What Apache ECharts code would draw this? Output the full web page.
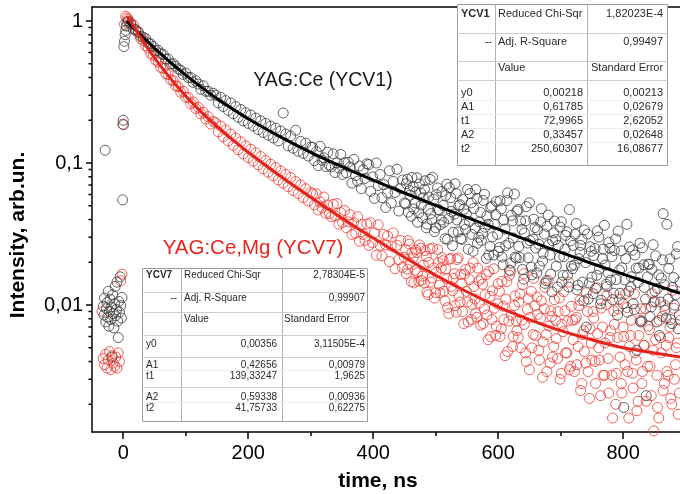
<!DOCTYPE html>
<html>
<head>
<meta charset="utf-8">
<script src="https://cdn.jsdelivr.net/npm/echarts@6/dist/echarts.min.js"></script>
<style>html,body{margin:0;padding:0;background:#fff}#c{width:680px;height:494px}</style>
</head>
<body>
<div id="c"></div>
<script>
// ---------- DATA ----------
// pre-trigger / rising edge points
const preTimeBlack = [-32,-31,-30,-29,-28,-27,-26,-25,-24,-23,-22,-21,-20,-19,-18,-17,-16,-15,-14,-13,-12,-11,-10,-9,-8,-7,-6,-5,-4,-3,-2,-1,0,0.5,1,2,3,4,5,6];
const preBlack = [0.0098,0.0085,0.0112,0.123,0.0076,0.0094,0.0104,0.0082,0.0125,0.0071,0.0090,0.0110,0.0079,0.0097,0.0043,0.0118,0.0087,0.0069,0.0102,0.0135,0.0084,0.0093,0.0145,0.0077,0.0059,0.0106,0.0089,0.0158,0.0099,0.0081,0.0113,0.055,0.20,0.186,0.66,0.72,0.80,0.86,0.92,0.98];
const preTimeRed = [-34,-32,-30,-28,-26,-24,-22,-20,-18,-16,-14,-12,-10,-8,-6,-4,-2,-1,2,4,6];
const preRed = [0.009,0.0042,0.0038,0.0045,0.0036,0.0041,0.0047,0.0035,0.0044,0.0039,0.0037,0.0043,0.0036,0.0046,0.0040,0.0148,0.0165,0.188,0.95,1.08,1.05];

// decay time bins (ns), shared by both samples
const decayTime = [
8,12,16,20,24,28,32,36,40,44,48,52,56,60,64,68,72,76,80,84,
88,92,96,100,104,108,112,116,120,124,128,132,136,140,144,148,152,156,160,164,
168,172,176,180,184,188,192,196,200,204,208,212,216,220,224,228,232,236,240,244,
248,252,256,260,264,268,272,276,280,284,288,292,296,300,
303,306,309,312,315,318,321,324,327,330,
333,336,339,342,345,348,351,354,357,360,
363,366,369,372,375,378,381,384,387,390,
393,396,399,402,405,408,411,414,417,420,
423,426,429,432,435,438,441,444,447,450,
453,456,459,462,465,468,471,474,477,480,
483,486,489,492,495,498,501,504,507,510,
513,516,519,522,525,528,531,534,537,540,
543,546,549,552,555,558,561,564,567,570,
573,576,579,582,585,588,591,594,597,600,
603,606,609,612,615,618,621,624,627,630,
633,636,639,642,645,648,651,654,657,660,
663,666,669,672,675,678,681,684,687,690,
693,696,699,702,705,708,711,714,717,720,
723,726,729,732,735,738,741,744,747,750,
753,756,759,762,765,768,771,774,777,780,
783,786,789,792,795,798,801,804,807,810,
813,816,819,822,825,828,831,834,837,840,
843,846,849,852,855,858,861,864,867,870,
873,876,879,882,885,888,891];

// YAG:Ce (YCV1) measured intensity
const decayBlack = [
1.0,0.95,0.88,0.87,0.84,0.78,0.77,0.75,0.70,0.69,
0.66,0.62,0.62,0.59,0.58,0.54,0.54,0.50,0.50,0.48,
0.46,0.45,0.42,0.43,0.40,0.40,0.37,0.38,0.36,0.33,
0.35,0.32,0.32,0.30,0.31,0.30,0.265,0.29,0.25,0.275,
0.235,0.265,0.222,0.25,0.21,0.238,0.198,0.226,0.19,0.218,
0.182,0.207,0.172,0.198,0.164,0.19,0.157,0.182,0.15,0.176,
0.143,0.168,0.225,0.16,0.132,0.155,0.127,0.17,0.121,0.142,
0.117,0.138,0.112,0.13,
0.129,0.104,0.120,0.0959,0.131,0.1045,0.1086,0.0944,0.119,0.0963,
0.094,0.116,0.0857,0.1003,0.0922,0.1148,0.0831,0.1005,0.0854,0.1011,
0.0937,0.0722,0.106,0.0815,0.0745,0.0953,0.066,0.0895,0.0779,0.0988,
0.0975,0.0631,0.0799,0.0563,0.100,0.0695,0.0831,0.057,0.0704,0.0486,
0.0617,0.0881,0.0523,0.0741,0.0621,0.0904,0.0459,0.0662,0.0759,0.0523,
0.0716,0.045,0.0593,0.0791,0.0475,0.0627,0.0383,0.0712,0.0505,0.0569,
0.075,0.0371,0.0576,0.044,0.0794,0.0329,0.060,0.047,0.0367,0.0629,
0.0382,0.0591,0.029,0.067,0.0456,0.0325,0.0714,0.0397,0.0501,0.0293,
0.0554,0.037,0.0438,0.0247,0.061,0.0314,0.0478,0.065,0.0272,0.0385,
0.0285,0.0545,0.0353,0.0423,0.0225,0.0485,0.0302,0.0369,0.0536,0.0239,
0.0541,0.0218,0.0397,0.0262,0.0616,0.0176,0.0428,0.0297,0.0217,0.0459,
0.0258,0.039,0.0178,0.0322,0.0493,0.0215,0.0284,0.0163,0.0402,0.0252,
0.0339,0.0188,0.0477,0.0231,0.0142,0.0358,0.0266,0.0165,0.0284,0.039,
0.0188,0.0263,0.0354,0.0145,0.0219,0.0309,0.0163,0.047,0.0188,0.0263,
0.0315,0.0128,0.0212,0.0263,0.0145,0.0338,0.0070,0.011,0.0257,0.0157,
0.0223,0.0131,0.0333,0.0179,0.0108,0.0248,0.0191,0.0135,0.0276,0.015,
0.0109,0.0242,0.0151,0.0332,0.0121,0.0183,0.0019,0.0212,0.0089,0.0256,
0.0158,0.0102,0.0225,0.0048,0.0182,0.0076,0.0253,0.0133,0.0023,0.0194,
0.0083,0.0178,0.0105,0.0222,0.0131,0.0061,0.0155,0.044,0.0092,0.037,
0.0181,0.0079,0.0133,0.010,0.0229,0.0068,0.0145];

// YAG:Ce,Mg (YCV7) measured intensity
const decayRed = [
1.03,0.97,0.94,0.85,0.83,0.75,0.73,0.67,0.645,0.59,
0.575,0.53,0.515,0.47,0.465,0.425,0.42,0.385,0.38,0.35,
0.345,0.315,0.32,0.29,0.29,0.262,0.268,0.242,0.247,0.222,
0.228,0.204,0.212,0.188,0.196,0.192,0.166,0.182,0.153,0.171,
0.143,0.16,0.133,0.15,0.124,0.141,0.116,0.132,0.109,0.125,
0.103,0.118,0.097,0.111,0.091,0.104,0.086,0.098,0.081,0.093,
0.076,0.088,0.072,0.083,0.068,0.079,0.064,0.074,0.061,0.07,
0.057,0.066,0.054,0.062,
0.0607,0.0507,0.0606,0.0467,0.0531,0.0485,0.0576,0.0443,0.0507,0.0441,
0.0419,0.0511,0.0425,0.0518,0.037,0.0447,0.0381,0.0463,0.035,0.0385,
0.0432,0.0314,0.038,0.032,0.0419,0.0281,0.037,0.0314,0.0285,0.0372,
0.0263,0.038,0.0274,0.0322,0.0224,0.0367,0.0263,0.0222,0.0314,0.0265,
0.0307,0.0202,0.026,0.0322,0.018,0.0264,0.0209,0.0285,0.0184,0.0217,
0.0166,0.0284,0.0196,0.0233,0.0143,0.0245,0.0169,0.0265,0.0149,0.0191,
0.0242,0.0123,0.02,0.0145,0.0252,0.0112,0.017,0.0199,0.0122,0.0216,
0.0125,0.0179,0.0096,0.021,0.0135,0.0154,0.0099,0.0209,0.0117,0.0164,
0.009,0.0165,0.0125,0.0076,0.0182,0.0101,0.0135,0.0087,0.0182,0.0103,
0.0154,0.0074,0.0118,0.0085,0.0172,0.006,0.0126,0.0095,0.0071,0.0141,
0.006,0.0147,0.0079,0.011,0.0047,0.0162,0.0085,0.006,0.0116,0.0066,
0.0105,0.005,0.0139,0.0073,0.004,0.0111,0.0082,0.005,0.0154,0.0061,
0.0086,0.0041,0.0107,0.0055,0.0133,0.0034,0.0071,0.0091,0.0043,0.0109,
0.0058,0.009,0.003,0.0073,0.0124,0.0046,0.0077,0.0035,0.0098,0.0057,
0.0079,0.0038,0.0099,0.0025,0.0062,0.0047,0.0122,0.0034,0.0068,0.0041,
0.0081,0.0028,0.0063,0.0041,0.0095,0.0032,0.0054,0.0117,0.0024,0.0066,
0.0016,0.0073,0.0033,0.0094,0.0043,0.0024,0.006,0.012,0.0034,0.0051,
0.0078,0.0026,0.0046,0.0018,0.0061,0.0094,0.0034,0.0052,0.0021,0.0071,
0.0037,0.012,0.0013,0.0057,0.0019,0.0078,0.0046,0.0025,0.0099,0.0034,
0.0059,0.0022,0.0127,0.003,0.005,0.0017,0.0078];

// interleaved time bins of the late tail (second acquisition channel)
const tailTime = [
452,455,458,461,464,467,470,473,476,479,
482,485,488,491,494,497,500,503,506,509,
512,515,518,521,524,527,530,533,536,539,
542,545,548,551,554,557,560,563,566,569,
572,575,578,581,584,587,590,593,596,599,
602,605,608,611,614,617,620,623,626,629,
632,635,638,641,644,647,650,653,656,659,
662,665,668,671,674,677,680,683,686,689,
692,695,698,701,704,707,710,713,716,719,
722,725,728,731,734,737,740,743,746,749,
752,755,758,761,764,767,770,773,776,779,
782,785,788,791,794,797,800,803,806,809,
812,815,818,821,824,827,830,833,836,839,
842,845,848,851,854,857,860,863,866,869,
872,875,878,881,884,887,890];
const tailBlack = [
0.0516,0.0768,0.064,0.0422,0.0683,0.0524,0.0788,0.0445,0.0615,0.0412,
0.0654,0.035,0.0472,0.0767,0.0399,0.0557,0.035,0.0668,0.0465,0.0397,
0.0502,0.0293,0.071,0.0407,0.057,0.0262,0.0437,0.0609,0.0327,0.0509,
0.029,0.0472,0.0342,0.0651,0.0387,0.0524,0.0239,0.0347,0.0564,0.030,
0.0448,0.032,0.0603,0.0213,0.037,0.0258,0.0497,0.0225,0.0433,0.0315,
0.0254,0.0476,0.0192,0.0343,0.0544,0.0272,0.0197,0.0391,0.0605,0.0214,
0.047,0.0216,0.0342,0.0152,0.0392,0.0273,0.0525,0.0185,0.0291,0.0351,
0.0168,0.0268,0.0384,0.0204,0.0316,0.0148,0.043,0.0225,0.0124,0.0322,
0.0289,0.0134,0.0217,0.0386,0.0162,0.0247,0.0328,0.0134,0.0283,0.018,
0.0191,0.0375,0.0138,0.0235,0.029,0.0107,0.0199,0.0316,0.0143,0.0239,
0.012,0.025,0.0162,0.0301,0.0102,0.0212,0.0364,0.014,0.0169,0.0251,
0.0219,0.0121,0.0292,0.0085,0.0176,0.0241,0.0102,0.015,0.037,0.0125,
0.0134,0.0243,0.0093,0.0182,0.0144,0.0272,0.0077,0.0192,0.011,0.0158,
0.0193,0.0097,0.0266,0.0125,0.0076,0.0163,0.0105,0.0208,0.0139,0.0081,
0.011,0.0211,0.0074,0.0156,0.0118,0.0258,0.0085];
const tailRed = [
0.0245,0.0179,0.0268,0.0146,0.0215,0.0176,0.0234,0.0147,0.0251,0.016,
0.0143,0.022,0.0118,0.0248,0.0155,0.0182,0.0122,0.0246,0.0138,0.0182,
0.0205,0.0107,0.0154,0.0087,0.0213,0.0126,0.0166,0.0089,0.0215,0.0105,
0.0142,0.0074,0.0178,0.0105,0.0151,0.0079,0.0199,0.011,0.0082,0.0148,
0.0072,0.014,0.0094,0.0164,0.0057,0.0115,0.0079,0.018,0.0061,0.0102,
0.0125,0.0068,0.0098,0.0044,0.0146,0.0077,0.0174,0.0051,0.0099,0.0077,
0.0059,0.012,0.0078,0.0166,0.0046,0.0093,0.0035,0.0125,0.0062,0.0099,
0.0114,0.0048,0.0081,0.0031,0.0094,0.0062,0.0149,0.0039,0.0083,0.0051,
0.0078,0.0042,0.0112,0.0033,0.0065,0.0091,0.0046,0.0145,0.0037,0.0078,
0.0034,0.0082,0.0051,0.0108,0.0028,0.0066,0.0039,0.009,0.0022,0.0054,
0.009,0.004,0.0132,0.005,0.0023,0.007,0.0032,0.0101,0.0042,0.0059,
0.0032,0.0091,0.002,0.0059,0.011,0.0028,0.007,0.0038,0.0096,0.0016,
0.0061,0.0033,0.012,0.0041,0.0021,0.0078,0.0028,0.0052,0.0094,0.0037,
0.0067,0.0023,0.0048,0.0106,0.0032,0.0016,0.0059,0.0083,0.0028,0.0052,
0.0032,0.007,0.002,0.0095,0.0038,0.0054,0.0024];

// fitted curves
const fitTime  = [6,10,20,30,40,50,60,80,100,125,150,175,200,250,300,350,400,450,500,550,600,650,700,750,800,850,891];
const fitBlack = [0.99,0.955,0.862,0.781,0.709,0.645,0.588,0.492,0.416,0.342,0.284,0.240,0.205,0.154,0.119,0.0942,0.0757,0.0615,0.0503,0.0414,0.0342,0.0283,0.0235,0.0196,0.0165,0.0139,0.0121];
const fitRed   = [1.08,1.02,0.868,0.741,0.637,0.551,0.481,0.373,0.296,0.228,0.181,0.146,0.119,0.0816,0.0573,0.0409,0.0296,0.0217,0.0162,0.0124,0.0097,0.0079,0.0066,0.0057,0.0050,0.0046,0.0043];

// axis ticks
const xMajorTicks = [0,200,400,600,800];
const xMinorTicks = [100,300,500,700];
const yMajorTicks = [0.01,0.1,1];
const yMinorTicks = [0.002,0.003,0.004,0.005,0.006,0.007,0.008,0.009,0.02,0.03,0.04,0.05,0.06,0.07,0.08,0.09,0.2,0.3,0.4,0.5,0.6,0.7,0.8,0.9];

// fit result tables
const ycv1Stats = [["YCV1","Reduced Chi-Sqr","1,82023E-4"],["--","Adj. R-Square","0,99497"],["","Value","Standard Error"]];
const ycv1Params = [["y0","0,00218","0,00213"],["A1","0,61785","0,02679"],["t1","72,9965","2,62052"],["A2","0,33457","0,02648"],["t2","250,60307","16,08677"]];
const ycv7Stats = [["YCV7","Reduced Chi-Sqr","2,78304E-5"],["--","Adj. R-Square","0,99907"],["","Value","Standard Error"]];
const ycv7Params = [["y0","0,00356","3,11505E-4"],["A1","0,42656","0,00979"],["t1","139,33247","1,9625"],["A2","0,59338","0,00936"],["t2","41,75733","0,62275"]];

// ---------- CHART ----------
const FONT = '"Liberation Sans", Arial, sans-serif';
const pairs = (ts, vs) => ts.map((t, i) => [t, vs[i]]).filter(p => p[1] !== undefined);
const blackData = pairs(preTimeBlack, preBlack).concat(pairs(decayTime, decayBlack), pairs(tailTime, tailBlack));
const redData = pairs(preTimeRed, preRed).concat(pairs(decayTime, decayRed), pairs(tailTime, tailRed));

const X_MIN = -50, X_MAX = 891, Y_MIN = 0.001276, Y_MAX = 1.2547;

function T(x, y, text, font, align, vAlign, fill) {
  return { type: 'text', z: 100, style: { x: x, y: y, text: text, font: font, fill: fill || '#2a2a2a',
    textAlign: align, align: align, textVerticalAlign: vAlign || 'middle', verticalAlign: vAlign || 'middle' } };
}
function L(x1, y1, x2, y2, color) {
  return { type: 'line', z: 100, shape: { x1: x1, y1: y1, x2: x2, y2: y2 }, style: { stroke: color, lineWidth: 1 } };
}

function table(cfg) {
  const els = [];
  els.push({ type: 'rect', z: 99, shape: { x: cfg.x, y: cfg.y, width: cfg.w, height: cfg.h },
    style: { fill: '#fff', stroke: '#9a9a9a', lineWidth: 1 } });
  cfg.vlines.forEach(vx => els.push(L(vx, cfg.y, vx, cfg.y + cfg.h, '#b4b4b4')));
  cfg.hlines.forEach(h => els.push(L(cfg.x, h[0], cfg.x + cfg.w, h[0], h[1])));
  const f = cfg.fs + 'px ' + FONT, fb = 'bold ' + cfg.fs + 'px ' + FONT;
  cfg.statsY.forEach((yy, i) => {
    const r = cfg.stats[i];
    if (i === 0) els.push(T(cfg.c0x, yy, r[0], fb, 'left'));
    else if (r[0]) els.push(T(cfg.dashX, yy, r[0], f, 'right'));
    els.push(T(cfg.c1x, yy, r[1], f, 'left'));
    if (i === 2) els.push(T(cfg.c2x, yy, r[2], f, 'left'));
    else els.push(T(cfg.r2x, yy, r[2], f, 'right'));
  });
  cfg.paramY.forEach((yy, i) => {
    const r = cfg.params[i];
    els.push(T(cfg.c0x, yy, r[0], f, 'left'));
    els.push(T(cfg.r1x, yy, r[1], f, 'right'));
    els.push(T(cfg.r2x, yy, r[2], f, 'right'));
  });
  return els;
}

const graphics = [].concat(
  table({ x: 457.5, y: 4.5, w: 210, h: 161, fs: 11,
    vlines: [495.5, 587.5],
    hlines: [[33.5,'#cfcfcf'],[61.5,'#cfcfcf'],[80.5,'#cfcfcf'],[100.5,'#ececec'],[114.5,'#ececec'],[128.5,'#ececec'],[142.5,'#ececec']],
    stats: ycv1Stats, statsY: [14, 42, 68], params: ycv1Params, paramY: [93, 107, 121, 135, 149],
    c0x: 461, dashX: 492, c1x: 498, c2x: 591, r1x: 583, r2x: 663 }),
  table({ x: 142.5, y: 268.5, w: 225, h: 153, fs: 10,
    vlines: [181.5, 282.5],
    hlines: [[292.5,'#cfcfcf'],[312.5,'#cfcfcf'],[335.5,'#cfcfcf'],[357.5,'#cfcfcf'],[370.5,'#ececec'],[387.5,'#cfcfcf'],[402.5,'#ececec']],
    stats: ycv7Stats, statsY: [275, 298, 319], params: ycv7Params, paramY: [344, 365, 376, 397, 408],
    c0x: 146, dashX: 177, c1x: 184, c2x: 284, r1x: 277, r2x: 365 }),
  [
    T(323, 81, 'YAG:Ce (YCV1)', '19.5px ' + FONT, 'center', 'middle', '#1a1a1a'),
    T(253, 248, 'YAG:Ce,Mg (YCV7)', '20.5px ' + FONT, 'center', 'middle', '#e8281e'),
    T(378, 481, 'time, ns', 'bold 21px ' + FONT, 'center', 'middle', '#000'),
    { type: 'text', z: 100, x: 18, y: 235, rotation: Math.PI / 2,
      style: { x: 0, y: 0, text: 'Intensity, arb.un.', font: 'bold 21px ' + FONT, fill: '#000',
        textAlign: 'center', align: 'center', textVerticalAlign: 'middle', verticalAlign: 'middle' } }
  ]
);

const axisLineStyle = { color: '#000', width: 1.5 };
const fmtY = v => String(Number(Number(v).toPrecision(2))).replace('.', ',');

// y-axis ticks drawn through the log scale of the axis (outward, left)
function tickSeries(values, len) {
  return { type: 'custom', coordinateSystem: 'cartesian2d', xAxisIndex: 0, yAxisIndex: 0, clip: false, silent: true, z: 10,
    data: values.map(v => [X_MIN, v]),
    renderItem: (params, api) => {
      const p = api.coord([api.value(0), api.value(1)]);
      return { type: 'line', shape: { x1: p[0] - len, y1: p[1], x2: p[0], y2: p[1] },
        style: { stroke: '#000', lineWidth: 1.5 } };
    } };
}

const option = {
  animation: false,
  backgroundColor: '#fff',
  grid: { left: 92, top: 7, width: 588, height: 425, show: false },
  xAxis: [
    { type: 'value', min: X_MIN, max: X_MAX, position: 'bottom',
      axisLine: { show: true, onZero: false, lineStyle: axisLineStyle },
      axisTick: { show: true, inside: false, length: 7, customValues: xMajorTicks, lineStyle: axisLineStyle },
      axisLabel: { customValues: xMajorTicks, fontSize: 20, color: '#000', margin: 11, fontFamily: FONT },
      splitLine: { show: false } },
    { type: 'value', min: X_MIN, max: X_MAX, position: 'bottom',
      axisLine: { show: false, onZero: false },
      axisTick: { show: true, inside: false, length: 4, customValues: xMinorTicks, lineStyle: axisLineStyle },
      axisLabel: { show: false }, splitLine: { show: false } },
    { type: 'value', min: X_MIN, max: X_MAX, position: 'top',
      axisLine: { show: true, onZero: false, lineStyle: axisLineStyle },
      axisTick: { show: false }, axisLabel: { show: false }, splitLine: { show: false } }
  ],
  yAxis: [
    { type: 'log', logBase: 10, min: Y_MIN, max: Y_MAX, position: 'left',
      axisLine: { show: true, onZero: false, lineStyle: axisLineStyle },
      axisTick: { show: false },
      axisLabel: { showMinLabel: false, showMaxLabel: false, fontSize: 20, color: '#000', margin: 9, fontFamily: FONT, formatter: fmtY },
      splitLine: { show: false }, minorTick: { show: false } }
  ],
  series: [
    { type: 'scatter', name: 'YAG:Ce,Mg (YCV7)', data: redData, symbol: 'circle', symbolSize: 10,
      itemStyle: { color: 'rgba(0,0,0,0)', borderColor: '#ee3a30', borderWidth: 1 }, z: 2 },
    { type: 'scatter', name: 'YAG:Ce (YCV1)', data: blackData, symbol: 'circle', symbolSize: 10,
      itemStyle: { color: 'rgba(0,0,0,0)', borderColor: '#3c3c3c', borderWidth: 1 }, z: 2 },
    { type: 'line', name: 'fit YCV1', data: pairs(fitTime, fitBlack), symbol: 'none', smooth: 0.3,
      lineStyle: { color: '#000', width: 3 }, z: 3 },
    { type: 'line', name: 'fit YCV7', data: pairs(fitTime, fitRed), symbol: 'none', smooth: 0.3,
      lineStyle: { color: '#e5231b', width: 3 }, z: 3 },
    tickSeries(yMajorTicks, 6),
    tickSeries(yMinorTicks, 3.5)
  ],
  graphic: { elements: graphics }
};

const chart = echarts.init(document.getElementById('c'), null, { renderer: 'canvas' });
chart.setOption(option);
</script>
</body>
</html>
